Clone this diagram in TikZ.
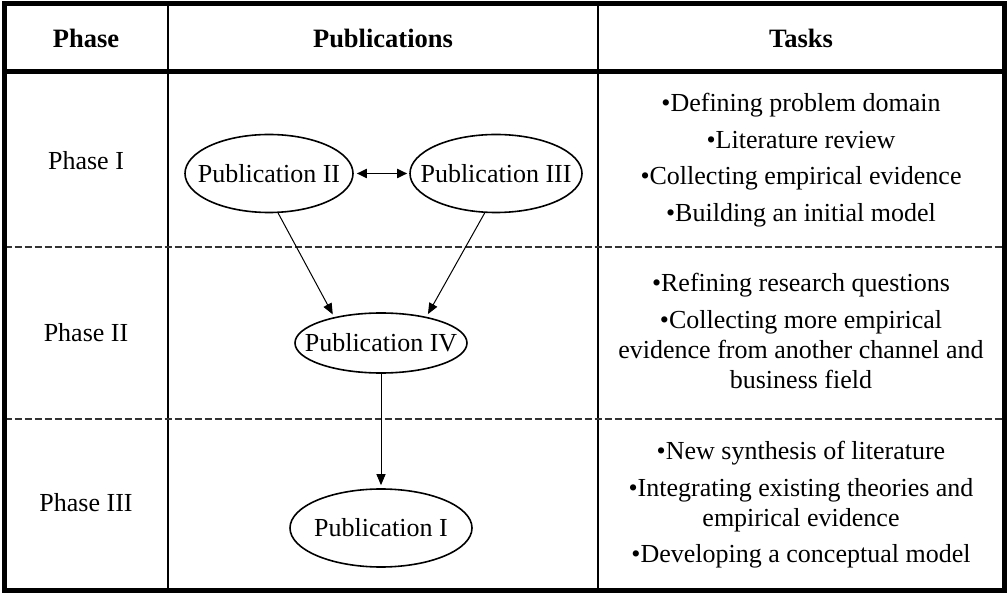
\documentclass[tikz,border=0pt]{standalone}
\usepackage{fontspec}
\setmainfont{Liberation Serif}
\usepackage{tikz}
\usetikzlibrary{shapes.geometric, arrows.meta}

\begin{document}
\begin{tikzpicture}[x=1pt, y=-1pt,
    pub/.style={ellipse, draw, line width=1.6pt, inner sep=0pt,
        inner xsep=-20pt, minimum width=170pt, minimum height=78pt,
        font=\fontsize{26}{30}\selectfont},
    phase/.style={font=\fontsize{26}{30}\selectfont},
    head/.style={font=\bfseries\fontsize{26.5}{30}\selectfont},
    task/.style={align=center, font=\fontsize{26}{30}\selectfont},
    link/.style={line width=1pt, -{Triangle[length=11pt, width=9pt]},
        shorten >=3pt},
    pair/.style={line width=1.8pt,
        {Triangle[length=10pt, width=9pt]}-{Triangle[length=10pt, width=9pt]},
        shorten <=3pt, shorten >=2pt}]
\useasboundingbox (0,0) rectangle (1007,593);
\def\xa{4.5}
\def\xb{168}
\def\xc{598}
\def\xd{1004}
% Column lines
\foreach \x in {\xb,\xc}{
    \draw[line width=2pt] (\x,4) -- (\x,590);
}
% Phase separators
\foreach \y in {247,419}{
    \draw[black!80, line width=2.5pt, dash pattern=on 7pt off 3pt]
        (\xa,\y) -- (\xd,\y);
}
% Header rule and frame
\draw[line width=5pt] (\xa,72) -- (\xd,72);
\draw[line width=5pt] (\xa,4) rectangle (\xd,590);
% Header
\node[head] (hphase) at (86,38)  {Phase};
\node[head] (hpub)   at (383,38) {Publications};
\node[head] (htask)  at (801,38) {Tasks};
% Phases
\node[phase] (ph1) at (86,161) {Phase I};
\node[phase] (ph2) at (86,333) {Phase II};
\node[phase] (ph3) at (86,503) {Phase III};
% Publications
\node[pub, minimum width=168pt] (pub2) at (269,173.5) {Publication II};
\node[pub, minimum width=172pt] (pub3) at (496,173.5) {Publication III};
\node[pub, minimum width=172pt, minimum height=60pt] (pub4) at (381,343) {Publication IV};
\node[pub, minimum width=182pt] (pub1) at (381,528) {Publication I};
\draw[pair] (pub2) -- (pub3);
\draw[link] (pub2.-77) -- (pub4.151);
\draw[link] (pub3.-106) -- (pub4.30);
\draw[link] (pub4) -- (pub1);
% Tasks
\node[task] (task1) at (801,160) {•Defining problem domain\\[6.5pt]
    •Literature review\\[6.5pt]
    •Collecting empirical evidence\\[6.5pt]
    •Building an initial model};
\node[task] (task2) at (801,331) {•Refining research questions\\[6.5pt]
    •Collecting more empirical\\
    evidence from another channel and\\
    business field};
\node[task] (task3) at (801,505) {•New synthesis of literature\\[6.5pt]
    •Integrating existing theories and\\
    empirical evidence\\[6.5pt]
    •Developing a conceptual model};
\end{tikzpicture}
\end{document}
